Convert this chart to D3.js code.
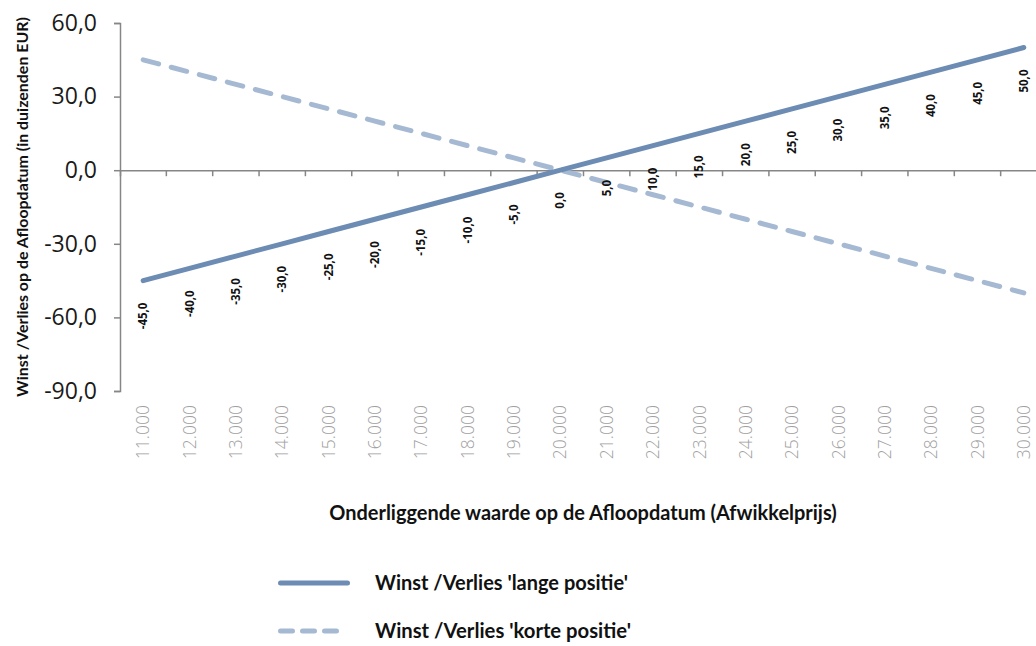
<!DOCTYPE html>
<html>
<head>
<meta charset="utf-8">
<script src="https://cdn.jsdelivr.net/npm/d3@7"></script>
<style>
  html, body { margin: 0; padding: 0; background: #fff; }
  svg { display: block; }
</style>
</head>
<body>
<svg id="chart" width="1036" height="646"></svg>
<script>
// ---- data ----
const categories = ["11.000","12.000","13.000","14.000","15.000","16.000","17.000","18.000","19.000","20.000",
                    "21.000","22.000","23.000","24.000","25.000","26.000","27.000","28.000","29.000","30.000"];
const longValues  = [-45,-40,-35,-30,-25,-20,-15,-10,-5,0,5,10,15,20,25,30,35,40,45,50];
const shortValues = [45,40,35,30,25,20,15,10,5,0,-5,-10,-15,-20,-25,-30,-35,-40,-45,-50];
const yTicks = [-90,-60,-30,0,30,60];
const seriesNames = ["Winst /Verlies 'lange positie'", "Winst /Verlies 'korte positie'"];
const yTitle = "Winst /Verlies op de Afloopdatum (in duizenden EUR)";
const xTitle = "Onderliggende waarde op de Afloopdatum (Afwikkelprijs)";

// ---- styles ----
const colLong = "#6d8cb3", colShort = "#a6b9d3", axisCol = "#868686";
const locale = d3.formatLocale({decimal: ",", thousands: ".", grouping: [3], currency: ["€",""], minus: "-"});
const fmt = locale.format(".1f");

const svg = d3.select("#chart");
const plotLeft = 120, bandW = 46.35, plotTop = 23, plotBottom = 391;
const x = d3.scaleBand().domain(categories).range([plotLeft, plotLeft + bandW * categories.length]).padding(0);
const y = d3.scaleLinear().domain([-90, 60]).range([plotBottom, plotTop]);
const cx = d => x(d) + x.bandwidth() / 2;

function fitText(sel, target) {
  sel.each(function() {
    const fs = parseFloat(this.getAttribute("font-size"));
    const w = this.getComputedTextLength();
    if (w > 0) this.setAttribute("font-size", (fs * target / w).toFixed(2));
  });
}

// y axis
const yAxis = svg.append("g").attr("transform", `translate(${plotLeft},0)`)
  .call(d3.axisLeft(y).tickValues(yTicks).tickSize(6).tickPadding(17).tickFormat(fmt));
yAxis.select(".domain").attr("stroke", axisCol).attr("stroke-width", 1.5);
yAxis.selectAll(".tick line").attr("stroke", axisCol).attr("stroke-width", 1.5);
yAxis.selectAll(".tick text").attr("font-family", "Open Sans, sans-serif").attr("font-size", 23).attr("fill", "#1a1a1a");

// x axis at y=0 with ticks at band boundaries
const xAxis = svg.append("g").attr("transform", `translate(0,${y(0)})`)
  .call(d3.axisBottom(x).tickSize(6).tickFormat(""));
xAxis.select(".domain").attr("stroke", axisCol).attr("stroke-width", 1.5);
xAxis.selectAll(".tick").attr("transform", d => `translate(${x(d) + x.bandwidth()},0)`);
xAxis.selectAll(".tick line").attr("stroke", axisCol).attr("stroke-width", 1.5);

// category labels (low position)
const xLab = svg.append("g").attr("transform", `translate(0,${plotBottom})`)
  .call(d3.axisBottom(x).tickSize(0).tickPadding(0));
xLab.select(".domain").remove();
xLab.selectAll(".tick text")
  .attr("font-family", "Open Sans, sans-serif").attr("font-size", 17.5).attr("font-weight", 300)
  .attr("fill", "#a0a0a0")
  .attr("transform", "translate(0,14) rotate(-90)")
  .attr("text-anchor", "end").attr("dy", "0.35em").attr("y", 0);

// lines
const line = d3.line().x((d, i) => cx(categories[i])).y(d => y(d));
svg.append("path").datum(shortValues).attr("d", line)
  .attr("fill", "none").attr("stroke", colShort).attr("stroke-width", 5)
  .attr("stroke-linecap", "round").attr("stroke-dasharray", "16,13");
svg.append("path").datum(longValues).attr("d", line)
  .attr("fill", "none").attr("stroke", colLong).attr("stroke-width", 5).attr("stroke-linecap", "round");

// data labels for long position
svg.append("g").selectAll("text").data(longValues).join("text")
  .attr("transform", (d, i) => `translate(${cx(categories[i])},${y(d) + 22}) rotate(-90)`)
  .attr("text-anchor", "end").attr("dy", "0.35em")
  .attr("font-family", "Open Sans, sans-serif").attr("font-weight", 700).attr("font-size", 11.5)
  .attr("fill", "#111")
  .text(d => fmt(d));

// axis titles
const yt = svg.append("text").attr("transform", `translate(22,${(17 + 397) / 2}) rotate(-90)`)
  .attr("text-anchor", "middle").attr("dy", "0.35em")
  .attr("font-family", "Lato, sans-serif").attr("font-weight", 700).attr("font-size", 17)
  .attr("fill", "#111").text(yTitle);
fitText(yt, 380);
const xt = svg.append("text").attr("x", 583).attr("y", 513)
  .attr("text-anchor", "middle").attr("dy", "0.35em")
  .attr("font-family", "Lato, sans-serif").attr("font-weight", 700).attr("font-size", 17)
  .attr("fill", "#111").text(xTitle);
fitText(xt, 508);

// legend
const legendY = [583, 631];
const lg = svg.append("g");
seriesNames.forEach((name, i) => {
  lg.append("line").attr("x1", 280.5).attr("x2", i === 0 ? 347.5 : 336.5).attr("y1", legendY[i]).attr("y2", legendY[i])
    .attr("stroke", i === 0 ? colLong : colShort).attr("stroke-width", 5).attr("stroke-linecap", "round")
    .attr("stroke-dasharray", i === 0 ? null : "12,10");
  const t = lg.append("text").attr("x", 375).attr("y", legendY[i]).attr("dy", "0.35em")
    .attr("font-family", "Lato, sans-serif").attr("font-weight", 700).attr("font-size", 16)
    .attr("fill", "#111").text(name);
  fitText(t, i === 0 ? 253 : 256);
});
</script>
</body>
</html>
